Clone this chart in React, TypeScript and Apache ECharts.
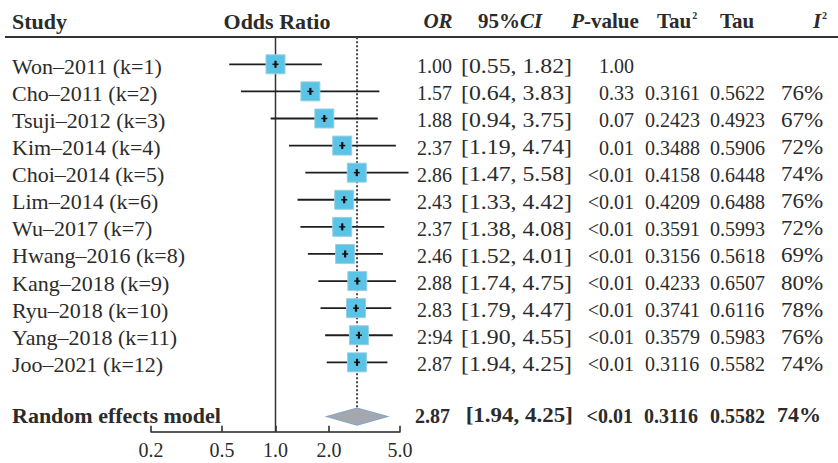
import React, { useEffect, useRef } from 'react';
import * as echarts from 'echarts';

const studies = [
  'Won–2011 (k=1)', 'Cho–2011 (k=2)', 'Tsuji–2012 (k=3)', 'Kim–2014 (k=4)',
  'Choi–2014 (k=5)', 'Lim–2014 (k=6)', 'Wu–2017 (k=7)', 'Hwang–2016 (k=8)',
  'Kang–2018 (k=9)', 'Ryu–2018 (k=10)', 'Yang–2018 (k=11)', 'Joo–2021 (k=12)'
];
const orValues = [1.00, 1.57, 1.88, 2.37, 2.86, 2.43, 2.37, 2.46, 2.88, 2.83, 2.94, 2.87];
const ciLower = [0.55, 0.64, 0.94, 1.19, 1.47, 1.33, 1.38, 1.52, 1.74, 1.79, 1.90, 1.94];
const ciUpper = [1.82, 3.83, 3.75, 4.74, 5.58, 4.42, 4.08, 4.01, 4.75, 4.47, 4.55, 4.25];
const orLabels = ['1.00', '1.57', '1.88', '2.37', '2.86', '2.43', '2.37', '2.46', '2.88', '2.83', '2:94', '2.87'];
const pValues = ['1.00', '0.33', '0.07', '0.01', '<0.01', '<0.01', '<0.01', '<0.01', '<0.01', '<0.01', '<0.01', '<0.01'];
const tau2Values = ['', '0.3161', '0.2423', '0.3488', '0.4158', '0.4209', '0.3591', '0.3156', '0.4233', '0.3741', '0.3579', '0.3116'];
const tauValues = ['', '0.5622', '0.4923', '0.5906', '0.6448', '0.6488', '0.5993', '0.5618', '0.6507', '0.6116', '0.5983', '0.5582'];
const i2Values = ['', '76%', '67%', '72%', '74%', '76%', '72%', '69%', '80%', '78%', '76%', '74%'];

const pooledLabel = 'Random effects model';
const pooledOR = 2.87;
const pooledLower = 1.94;
const pooledUpper = 4.25;
const pooledOrLabel = '2.87';
const pooledP = '<0.01';
const pooledTau2 = '0.3116';
const pooledTau = '0.5582';
const pooledI2 = '74%';

const xTicks = [0.2, 0.5, 1.0, 2.0, 5.0];

const FONT = '"Liberation Serif", "Times New Roman", serif';
const TEXT_COLOR = '#2b2b2b';

function txt(text: string, x: number, y: number, align: string, size: number, bold = false, italic = false, scaleX = 1) {
  return {
    type: 'text',
    x,
    y,
    scaleX,
    style: {
      text,
      x: 0,
      y: 0,
      fill: TEXT_COLOR,
      fontSize: size,
      fontFamily: FONT,
      fontWeight: bold ? 'bold' : 'normal',
      fontStyle: italic ? 'italic' : 'normal',
      align,
      textAlign: align,
      verticalAlign: 'middle',
      textVerticalAlign: 'middle'
    }
  };
}

function richTxt(text: string, x: number, y: number, align: string, rich: any) {
  return {
    type: 'text',
    x,
    y,
    style: {
      text,
      x: 0,
      y: 0,
      fill: TEXT_COLOR,
      fontSize: 21,
      fontFamily: FONT,
      fontWeight: 'bold',
      align,
      textAlign: align,
      verticalAlign: 'middle',
      textVerticalAlign: 'middle',
      rich
    }
  };
}

const COL = {
  label: 12,
  or: 417,
  ciR: 572,
  p: 634,
  tau2: 645,
  tau: 710,
  i2: 781
};
const CI_SCALE = 1.19;

export default function App() {
  const ref = useRef<HTMLDivElement>(null);

  useEffect(() => {
    if (!ref.current) return;
    const chart = echarts.init(ref.current, null, { renderer: 'svg' });

    const richBase = { fontFamily: FONT, fontSize: 21, fontWeight: 'bold', fill: TEXT_COLOR, color: TEXT_COLOR };
    const rich = {
      b: { ...richBase },
      bi: { ...richBase, fontStyle: 'italic' },
      sup: { ...richBase, fontSize: 10, verticalAlign: 'top', padding: [0, 0, 8, 1] }
    };

    const studyData = studies.map((_, i) => [orValues[i], i, ciLower[i], ciUpper[i]]);

    const option: any = {
      animation: false,
      backgroundColor: '#ffffff',
      textStyle: { fontFamily: FONT },
      grid: {
        left: 151,
        right: 438,
        top: 37.2,
        bottom: 31.3,
        containLabel: false,
        outerBoundsMode: 'none'
      },
      xAxis: {
        type: 'log',
        logBase: 10,
        min: 0.2,
        max: 5,
        axisLine: { show: true, onZero: false, lineStyle: { color: '#222', width: 1.5 } },
        axisTick: { show: true, inside: true, length: 6, customValues: xTicks, lineStyle: { color: '#222', width: 1.5 } },
        axisLabel: {
          customValues: xTicks,
          formatter: (v: number) => Number(v).toFixed(1),
          fontSize: 20,
          fontFamily: FONT,
          color: TEXT_COLOR,
          margin: 8
        },
        splitLine: { show: false },
        minorTick: { show: false },
        minorSplitLine: { show: false }
      },
      yAxis: {
        type: 'value',
        inverse: true,
        min: -1,
        max: 13.56,
        show: false,
        splitLine: { show: false }
      },
      graphic: [
        {
          type: 'line',
          shape: { x1: 5, y1: 37, x2: 838, y2: 37 },
          style: { stroke: '#333', lineWidth: 2 },
          silent: true
        },
        txt('Study', 12, 21, 'left', 22, true),
        txt('Odds Ratio', 277, 21, 'center', 22, true),
        richTxt('{bi|OR}', 438, 21, 'center', rich),
        richTxt('{b|95%}{bi|CI}', 510, 21, 'center', rich),
        richTxt('{bi|P}{b|-value}', 605, 21, 'center', rich),
        richTxt('{b|Tau}{sup|2}', 677, 21, 'center', rich),
        richTxt('{b|Tau}', 737, 21, 'center', rich),
        richTxt('{bi|I}{sup|2}', 820, 21, 'center', rich)
      ],
      series: [
        {
          type: 'line',
          data: [[1, -1], [1, 13.56]],
          symbol: 'none',
          silent: true,
          lineStyle: { color: '#333', width: 1.5, type: 'solid' },
          z: 1
        },
        {
          type: 'line',
          data: [[pooledOR, -1], [pooledOR, 12.72]],
          symbol: 'none',
          silent: true,
          lineStyle: { color: '#444', width: 2, type: 'dotted' },
          z: 1
        },
        {
          type: 'custom',
          clip: false,
          silent: true,
          z: 3,
          data: studyData,
          encode: { x: 0, y: 1 },
          renderItem: (params: any, api: any) => {
            const i = params.dataIndex;
            const row = api.value(1);
            const c = api.coord([api.value(0), row]);
            const lo = api.coord([api.value(2), row]);
            const hi = api.coord([api.value(3), row]);
            const cy = c[1];
            const ty = cy + 2;
            const half = 9.5;
            return {
              type: 'group',
              children: [
                {
                  type: 'line',
                  shape: { x1: lo[0], y1: cy, x2: hi[0], y2: cy },
                  style: { stroke: '#1e1e1e', lineWidth: 1.8 }
                },
                {
                  type: 'rect',
                  shape: { x: c[0] - half, y: cy - half, width: half * 2, height: half * 2 },
                  style: { fill: '#5BC3E6', stroke: '#9ccfe2', lineWidth: 1 }
                },
                {
                  type: 'line',
                  shape: { x1: c[0], y1: cy - 3.5, x2: c[0], y2: cy + 3.5 },
                  style: { stroke: '#111', lineWidth: 2.2 }
                },
                {
                  type: 'line',
                  shape: { x1: c[0] - 3, y1: cy, x2: c[0] + 3, y2: cy },
                  style: { stroke: '#111', lineWidth: 1.5 }
                },
                txt(studies[i], COL.label, ty, 'left', 22),
                txt(orLabels[i], COL.or, ty, 'left', 20),
                txt('[' + ciLower[i].toFixed(2) + ', ' + ciUpper[i].toFixed(2) + ']', COL.ciR, ty, 'right', 20, false, false, CI_SCALE),
                txt(pValues[i], COL.p, ty, 'right', 20),
                txt(tau2Values[i], COL.tau2, ty, 'left', 20),
                txt(tauValues[i], COL.tau, ty, 'left', 20),
                txt(i2Values[i], COL.i2, ty, 'left', 20, false, false, 1.15)
              ]
            };
          }
        },
        {
          type: 'custom',
          clip: false,
          silent: true,
          z: 3,
          data: [[pooledOR, 13, pooledLower, pooledUpper]],
          encode: { x: 0, y: 1 },
          renderItem: (params: any, api: any) => {
            const row = api.value(1);
            const c = api.coord([api.value(0), row]);
            const lo = api.coord([api.value(2), row]);
            const hi = api.coord([api.value(3), row]);
            const cy = c[1];
            const ty = cy - 1;
            const h = 8.5;
            return {
              type: 'group',
              children: [
                {
                  type: 'polygon',
                  shape: { points: [[lo[0], cy], [c[0], cy - h], [hi[0], cy], [c[0], cy + h]] },
                  style: { fill: '#a4a8ae', stroke: '#86a4c4', lineWidth: 1.2 }
                },
                txt(pooledLabel, COL.label, ty, 'left', 22, true),
                txt(pooledOrLabel, COL.or - 2, ty, 'left', 20, true),
                txt('[' + pooledLower.toFixed(2) + ', ' + pooledUpper.toFixed(2) + ']', COL.ciR + 1, ty, 'right', 20, true, false, 1.15),
                txt(pooledP, COL.p - 1, ty, 'right', 20, true),
                txt(pooledTau2, COL.tau2 - 1, ty, 'left', 20, true),
                txt(pooledTau, COL.tau, ty, 'left', 20, true),
                txt(pooledI2, COL.i2 - 4, ty, 'left', 20, true, false, 1.1)
              ]
            };
          }
        }
      ]
    };

    chart.setOption(option);
    return () => chart.dispose();
  }, []);

  return (
    <div
      ref={ref}
      style={{ position: 'fixed', left: 0, top: 0, width: 838, height: 463, background: '#fff' }}
    />
  );
}
